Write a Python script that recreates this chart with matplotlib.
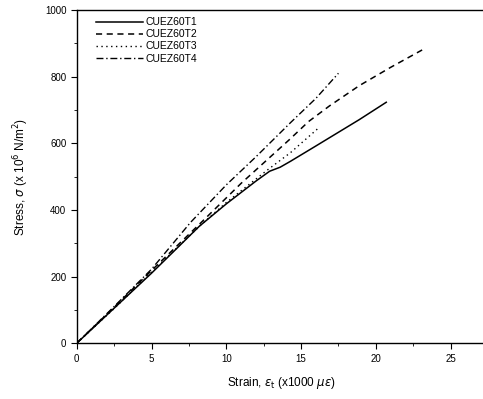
import matplotlib
matplotlib.use("Agg")
import matplotlib.pyplot as plt
from matplotlib.ticker import MultipleLocator

plt.rcParams['font.family'] = ['Liberation Sans', 'DejaVu Sans']

labels = ["CUEZ60T1", "CUEZ60T2", "CUEZ60T3", "CUEZ60T4"]

# strain (x1000 microstrain), stress (x10^6 N/m^2)
t1_x = [0, 2.5, 5, 8.2, 10, 12, 12.9, 13.6, 14.3, 16, 18.9, 20.7]
t1_y = [0, 105, 210, 351, 418, 487, 516, 528, 546, 592, 671, 723]
t2_x = [0, 2.5, 5, 8.5, 11, 14.2, 15.5, 16.9, 18.9, 21, 23.1]
t2_y = [0, 108, 218, 370, 480, 610, 665, 712, 773, 828, 880]
t3_x = [0, 2.5, 5, 8.3, 10, 12.7, 14.3, 16.1]
t3_y = [0, 104, 213, 355, 422, 518, 572, 643]
t4_x = [0, 2.5, 5, 7.6, 10, 12, 14.3, 16, 17.5]
t4_y = [0, 110, 222, 362, 475, 560, 662, 735, 810]

fig = plt.figure(figsize=(4.83, 3.99), dpi=100)
ax = fig.add_axes([0.159, 0.140, 0.845, 0.835])

ax.plot(t1_x, t1_y, color='black', lw=1.1, ls='-', label=labels[0])
ax.plot(t2_x, t2_y, color='black', lw=1.1, ls=(0, (4, 3)), label=labels[1])
ax.plot(t3_x, t3_y, color='black', lw=1.0, ls=(0, (1, 2.5)), label=labels[2])
ax.plot(t4_x, t4_y, color='black', lw=1.0, ls=(0, (5, 2, 1, 2)), label=labels[3])

ax.set_xlim(0, 27.3)
ax.set_ylim(0, 1000)
ax.xaxis.set_major_locator(MultipleLocator(5))
ax.xaxis.set_minor_locator(MultipleLocator(2.5))
ax.yaxis.set_major_locator(MultipleLocator(200))
ax.yaxis.set_minor_locator(MultipleLocator(100))
ax.tick_params(which='major', direction='out', length=4, width=0.8, labelsize=7)
ax.tick_params(which='minor', direction='out', length=2, width=0.6)
ax.spines['right'].set_visible(False)
for s in ['left', 'bottom', 'top']:
    ax.spines[s].set_linewidth(1.0)

ax.set_xlabel(r"Strain, $\epsilon_{\rm t}$ (x1000 $\mu\epsilon$)", fontsize=8.5, labelpad=8)
ax.set_ylabel(r"Stress, $\sigma$ (x 10$^6$ N/m$^2$)", fontsize=8.5, labelpad=10)

ax.legend(loc='upper left', frameon=False, fontsize=7.5, handlelength=4.5,
          handletextpad=0.2, labelspacing=0.2, borderaxespad=0.3,
          bbox_to_anchor=(0.03, 1.0))

fig.savefig("out.png", dpi=100)
